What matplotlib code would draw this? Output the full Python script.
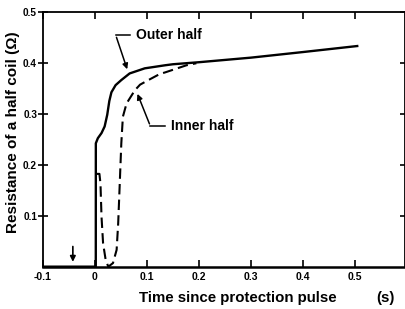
import matplotlib
matplotlib.use("Agg")
import matplotlib.pyplot as plt

plt.rcParams['font.family'] = ['Liberation Sans', 'DejaVu Sans']

# Outer half (solid)
outer_t = [-0.1, 0.002, 0.0021, 0.006, 0.013, 0.019, 0.024, 0.028, 0.032, 0.040, 0.051,
           0.067, 0.096, 0.135, 0.15, 0.2, 0.3, 0.4, 0.506]
outer_r = [0.0, 0.0, 0.242, 0.252, 0.262, 0.275, 0.298, 0.325, 0.342, 0.356, 0.366,
           0.379, 0.389, 0.395, 0.397, 0.401, 0.410, 0.421, 0.433]

# Inner half (dashed)
inner_t = [0.003, 0.009, 0.011, 0.013, 0.016, 0.021, 0.026, 0.035, 0.042, 0.045,
           0.048, 0.051, 0.054, 0.061, 0.077, 0.087, 0.103, 0.125, 0.135, 0.176, 0.195]
inner_r = [0.182, 0.182, 0.163, 0.098, 0.046, 0.013, 0.0, 0.007, 0.033, 0.085,
           0.163, 0.242, 0.294, 0.320, 0.346, 0.357, 0.366, 0.378, 0.381, 0.395, 0.399]

x_ticks = [-0.1, 0, 0.1, 0.2, 0.3, 0.4, 0.5]
x_labels = ['-0.1', '0', '0.1', '0.2', '0.3', '0.4', '0.5']
y_ticks = [0.1, 0.2, 0.3, 0.4, 0.5]
y_labels = ['0.1', '0.2', '0.3', '0.4', '0.5']

fig = plt.figure(figsize=(4.06, 3.09), dpi=100)
ax = fig.add_axes([0.105, 0.137, 0.892, 0.825])

ax.plot(outer_t, outer_r, color='black', lw=1.7, solid_capstyle='butt')
ax.plot(inner_t, inner_r, color='black', lw=1.5, ls=(0, (5, 2.5)))

ax.set_xlim(-0.1, 0.595)
ax.set_ylim(0, 0.5)

ax.set_xticks(x_ticks)
ax.set_xticklabels(x_labels, fontsize=7.5, fontweight='bold')
ax.set_yticks(y_ticks)
ax.set_yticklabels(y_labels, fontsize=7.2, fontweight='bold')
ax.tick_params(axis='x', direction='in', length=5, width=1.2, top=True, pad=4)
ax.tick_params(axis='y', direction='inout', length=7, width=1.2, right=True, pad=0.5)

for s in ['left', 'top', 'right']:
    ax.spines[s].set_linewidth(1.3)
ax.spines['bottom'].set_linewidth(1.8)

# annotations
ax.annotate('', xy=(0.064, 0.382), xytext=(0.04, 0.455),
            arrowprops=dict(arrowstyle='-|>', color='black', lw=1.1, mutation_scale=8))
ax.plot([0.04, 0.068], [0.455, 0.455], color='black', lw=1.1)
ax.text(0.08, 0.455, 'Outer half', fontsize=10, fontweight='bold', va='center', ha='left')

ax.annotate('', xy=(0.08, 0.344), xytext=(0.107, 0.275),
            arrowprops=dict(arrowstyle='-|>', color='black', lw=1.1, mutation_scale=8))
ax.plot([0.107, 0.135], [0.275, 0.275], color='black', lw=1.1)
ax.text(0.147, 0.275, 'Inner half', fontsize=10, fontweight='bold', va='center', ha='left')

ax.annotate('', xy=(-0.042, 0.004), xytext=(-0.042, 0.045),
            arrowprops=dict(arrowstyle='-|>', color='black', lw=1.2, mutation_scale=8))

fig.text(238 / 406, 1 - 298 / 309, 'Time since protection pulse', fontsize=10.8,
         fontweight='bold', ha='center', va='center')
fig.text(385 / 406, 1 - 298 / 309, '(s)', fontsize=10.8, fontweight='bold',
         ha='center', va='center')
fig.text(13 / 406, 1 - 132 / 309, 'Resistance of a half coil (\u03a9)', fontsize=11,
         fontweight='bold', ha='center', va='center', rotation=90)

fig.savefig('out.png', dpi=100)
